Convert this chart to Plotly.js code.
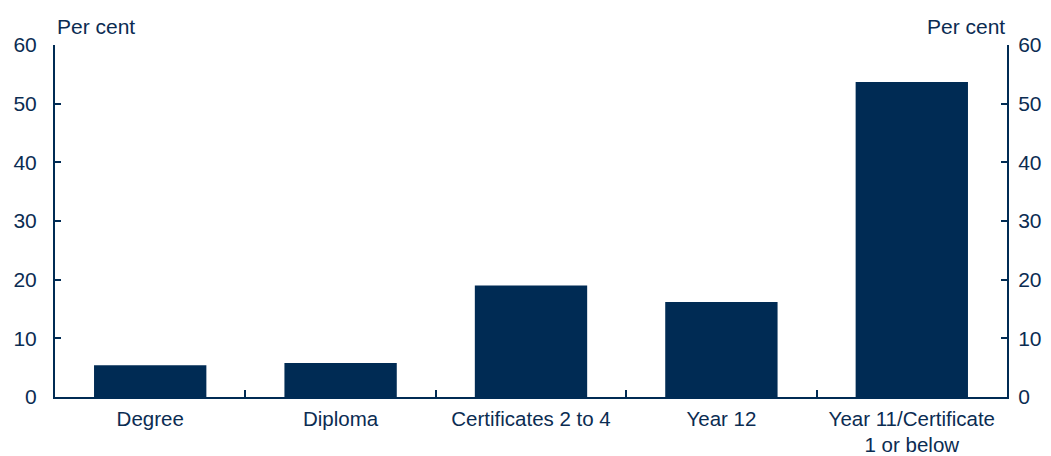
<!DOCTYPE html>
<html><head><meta charset="utf-8">
<script src="https://cdn.plot.ly/plotly-3.0.1.min.js"></script>
<style>html,body{margin:0;padding:0;background:#fff}#chart{width:1051px;height:456px}</style>
</head><body><div id="chart"></div>
<script>
const categories = ["Degree", "Diploma", "Certificates 2 to 4", "Year 12", "Year 11/Certificate<br>1 or below"];
const values = [5.4, 5.8, 19.0, 16.2, 53.7];
const yTicks = [0, 10, 20, 30, 40, 50, 60];

const navy = "#002b54";
const font = {family: "Liberation Sans, Arial, sans-serif", size: 21, color: "#0b2c52"};
const xFont = {family: "Liberation Sans, Arial, sans-serif", size: 20.5, color: "#0b2c52"};

const traces = [
  {type: "bar", x: categories, y: values, marker: {color: navy}, hoverinfo: "none", showlegend: false},
  {type: "scatter", x: categories, y: values, yaxis: "y2", mode: "none", hoverinfo: "none", showlegend: false}
];

const yBase = {
  range: [0, 60], tickvals: yTicks, ticks: "inside", ticklen: 6, tickwidth: 2, tickcolor: navy,
  showline: true, linecolor: navy, linewidth: 2, showgrid: false, zeroline: false,
  tickfont: font, fixedrange: true
};

const layout = {
  width: 1051, height: 456,
  margin: {l: 55, r: 44, t: 45, b: 59},
  paper_bgcolor: "#fff", plot_bgcolor: "#fff",
  font: font,
  bargap: 0.41,
  xaxis: {
    type: "category", tickson: "boundaries", ticks: "inside", ticklen: 7, tickwidth: 2, tickcolor: navy,
    showline: true, linecolor: navy, linewidth: 2, showgrid: false, tickfont: xFont, fixedrange: true,
    ticklabelstandoff: 2
  },
  yaxis: Object.assign({}, yBase, {side: "left", ticklabelstandoff: 12}),
  yaxis2: Object.assign({}, yBase, {side: "right", overlaying: "y", ticklabelstandoff: 5}),
  annotations: [
    {xref: "paper", yref: "paper", x: 0, y: 1, yshift: 5, xanchor: "left", yanchor: "bottom", text: "Per cent", showarrow: false, font: font},
    {xref: "paper", yref: "paper", x: 1, y: 1, yshift: 5, xanchor: "right", yanchor: "bottom", text: "Per cent", showarrow: false, font: font}
  ]
};

Plotly.newPlot("chart", traces, layout, {displayModeBar: false, staticPlot: true});
</script></body></html>
